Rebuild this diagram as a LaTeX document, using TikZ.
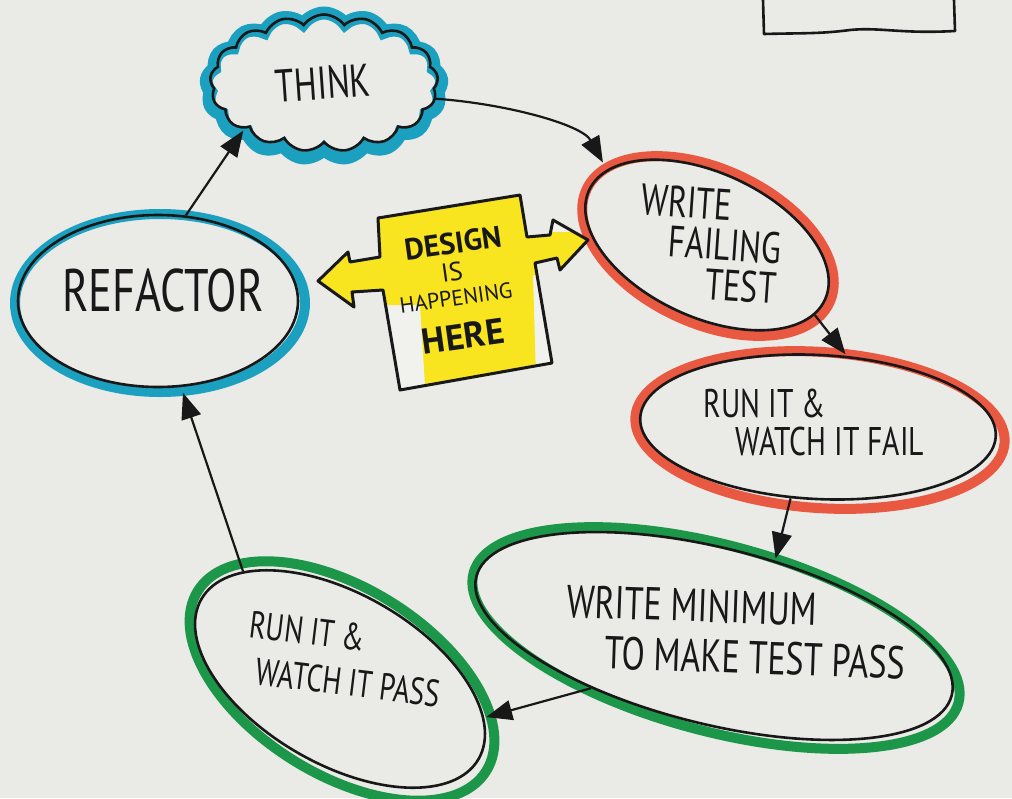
\documentclass[tikz,border=0pt]{standalone}
\usepackage{fontspec}
\setmainfont{PT Sans}
\newfontfamily\hand[FakeStretch=0.74]{PT Sans}
\newfontfamily\handwide{PT Sans}
\usetikzlibrary{shapes.geometric,shapes.symbols,arrows.meta}
\definecolor{paper}{RGB}{234,234,231}
\definecolor{paperlight}{RGB}{241,241,238}
\definecolor{inkc}{RGB}{24,24,24}
\definecolor{cyanM}{RGB}{27,160,192}
\definecolor{redM}{RGB}{233,88,64}
\definecolor{greenM}{RGB}{28,150,72}
\definecolor{yellowM}{RGB}{249,228,32}
\newcommand\handsize[2]{\fontsize{#1}{#2}\selectfont}
\begin{document}
\begin{tikzpicture}[x=1pt,y=-1pt,
  inkline/.style={draw=inkc, line width=2.6pt, inner sep=0pt},
  marker/.style={line width=10pt, inner sep=0pt},
  oval/.style={ellipse, inkline},
  handtext/.style={text=inkc, align=left, inner sep=0pt},
  designtext/.style={text=inkc, inner sep=0pt, rotate=8},
  flow/.style={draw=inkc, line width=2.2pt, -{Triangle[length=26pt,width=20pt]}, shorten >=2pt},
  puffs/.style={cloud, cloud puffs=17, cloud puff arc=110, aspect=1.65},
]
% paper
\fill[paper] (0,0) rectangle (1012,798);
\useasboundingbox (0,0) rectangle (1012,798);

% corner of a box at the top right
\draw[inkc, line width=2.6pt, line join=round] (763,0) -- (764,34)
  .. controls (800,33) and (820,34) .. (850,30)
  .. controls (880,27) and (900,34) .. (955,31) -- (954,0);

% THINK cloud
\node[puffs, draw=cyanM, line width=13pt, minimum width=236pt, minimum height=146pt] at (324,86) {};
\node (think) [puffs, inkline, minimum width=228pt, minimum height=137pt] at (324,83) {};
\node[handtext, font={\hand\handsize{46pt}{46pt}}, rotate=4] at (323,83) {THINK};

% REFACTOR
\node[ellipse, marker, draw=cyanM, minimum width=290pt, minimum height=178pt] at (160,303) {};
\node (refactor) [oval, minimum width=280pt, minimum height=172pt] at (158,301) {};
\node[handtext, font={\hand\handsize{60pt}{60pt}}] at (163,290) {REFACTOR};

% WRITE FAILING TEST
\node[ellipse, marker, draw=redM, rotate=-25, minimum width=268pt, minimum height=154pt] at (708,246) {};
\node (wft) [oval, rotate=-25, minimum width=260pt, minimum height=144pt] at (707,245) {};
\node[handtext, font={\hand\handsize{44pt}{40pt}}, rotate=-4] at (710,244)
  {WRITE\\\hspace*{30pt}FAILING\\\hspace*{70pt}TEST};

% RUN IT & WATCH IT FAIL
\node[ellipse, marker, draw=redM, rotate=-4, minimum width=370pt, minimum height=156pt] at (820,430) {};
\node (runfail) [oval, rotate=-3, minimum width=356pt, minimum height=144pt] at (818,427) {};
\node[handtext, font={\hand\handsize{40pt}{38pt}}] at (814,422)
  {RUN IT \&\\\hspace*{32pt}WATCH IT FAIL};

% WRITE MINIMUM TO MAKE TEST PASS
\node[ellipse, marker, draw=greenM, rotate=-15, minimum width=502pt, minimum height=186pt] at (716,638) {};
\node (wmin) [oval, rotate=-14, minimum width=490pt, minimum height=176pt] at (714,636) {};
\node[handtext, font={\hand\handsize{46pt}{50pt}}, rotate=-2] at (736,632)
  {WRITE MINIMUM\\\hspace*{40pt}TO MAKE TEST PASS};

% RUN IT & WATCH IT PASS
\node[ellipse, marker, draw=greenM, rotate=-32, minimum width=340pt, minimum height=186pt] at (342,681) {};
\node (runpass) [oval, rotate=-30, minimum width=320pt, minimum height=170pt] at (340,679) {};
\node[handtext, font={\hand\handsize{38pt}{46pt}}, rotate=-7] at (345,659)
  {RUN IT \&\\\hspace*{12pt}WATCH IT PASS};

% DESIGN IS HAPPENING HERE: box with a double arrow
\def\designoutline{(378,218) -- (520,195) -- (527,237) -- (550,235) -- (553,220)
  -- (588,240) -- (560,270) -- (557,258) -- (535,263) -- (552,363) -- (400,390)
  -- (383,290) -- (352,292) -- (354,307) -- (318,281) -- (348,252) -- (350,262)
  -- (380,257) -- cycle}
\fill[paperlight] \designoutline;
\begin{scope}
  \clip \designoutline;
  \fill[yellowM] (300,190) -- (545,190) -- (545,232) -- (600,232) -- (600,275)
    -- (533,275) -- (536,378) -- (425,385) -- (420,305) -- (300,305) -- cycle;
\end{scope}
\draw[inkc, line width=3pt, line join=round] \designoutline;
\node (design1) [designtext, font={\handwide\bfseries\handsize{30pt}{30pt}}] at (453,243) {DESIGN};
\node (design2) [designtext, font={\handwide\handsize{26pt}{26pt}}] at (452,272) {IS};
\node (design3) [designtext, font={\handwide\handsize{22pt}{22pt}}] at (456,298) {HAPPENING};
\node (design4) [designtext, font={\handwide\bfseries\handsize{36pt}{36pt}}] at (463,336) {HERE};

% cycle of steps
\draw[flow] (refactor.72) -- (think.210);
\draw[flow, shorten >=8pt] (think.-8) .. controls +(70,5) and +(-25,-45) .. (wft.168);
\draw[flow] (wft.-8) -- (runfail.71);
\draw[flow] (runfail.252) -- (wmin.65);
\draw[flow] (wmin.217) -- (runpass.15);
\draw[flow, shorten >=6pt] (runpass.162) -- (refactor.-75);
\end{tikzpicture}
\end{document}
